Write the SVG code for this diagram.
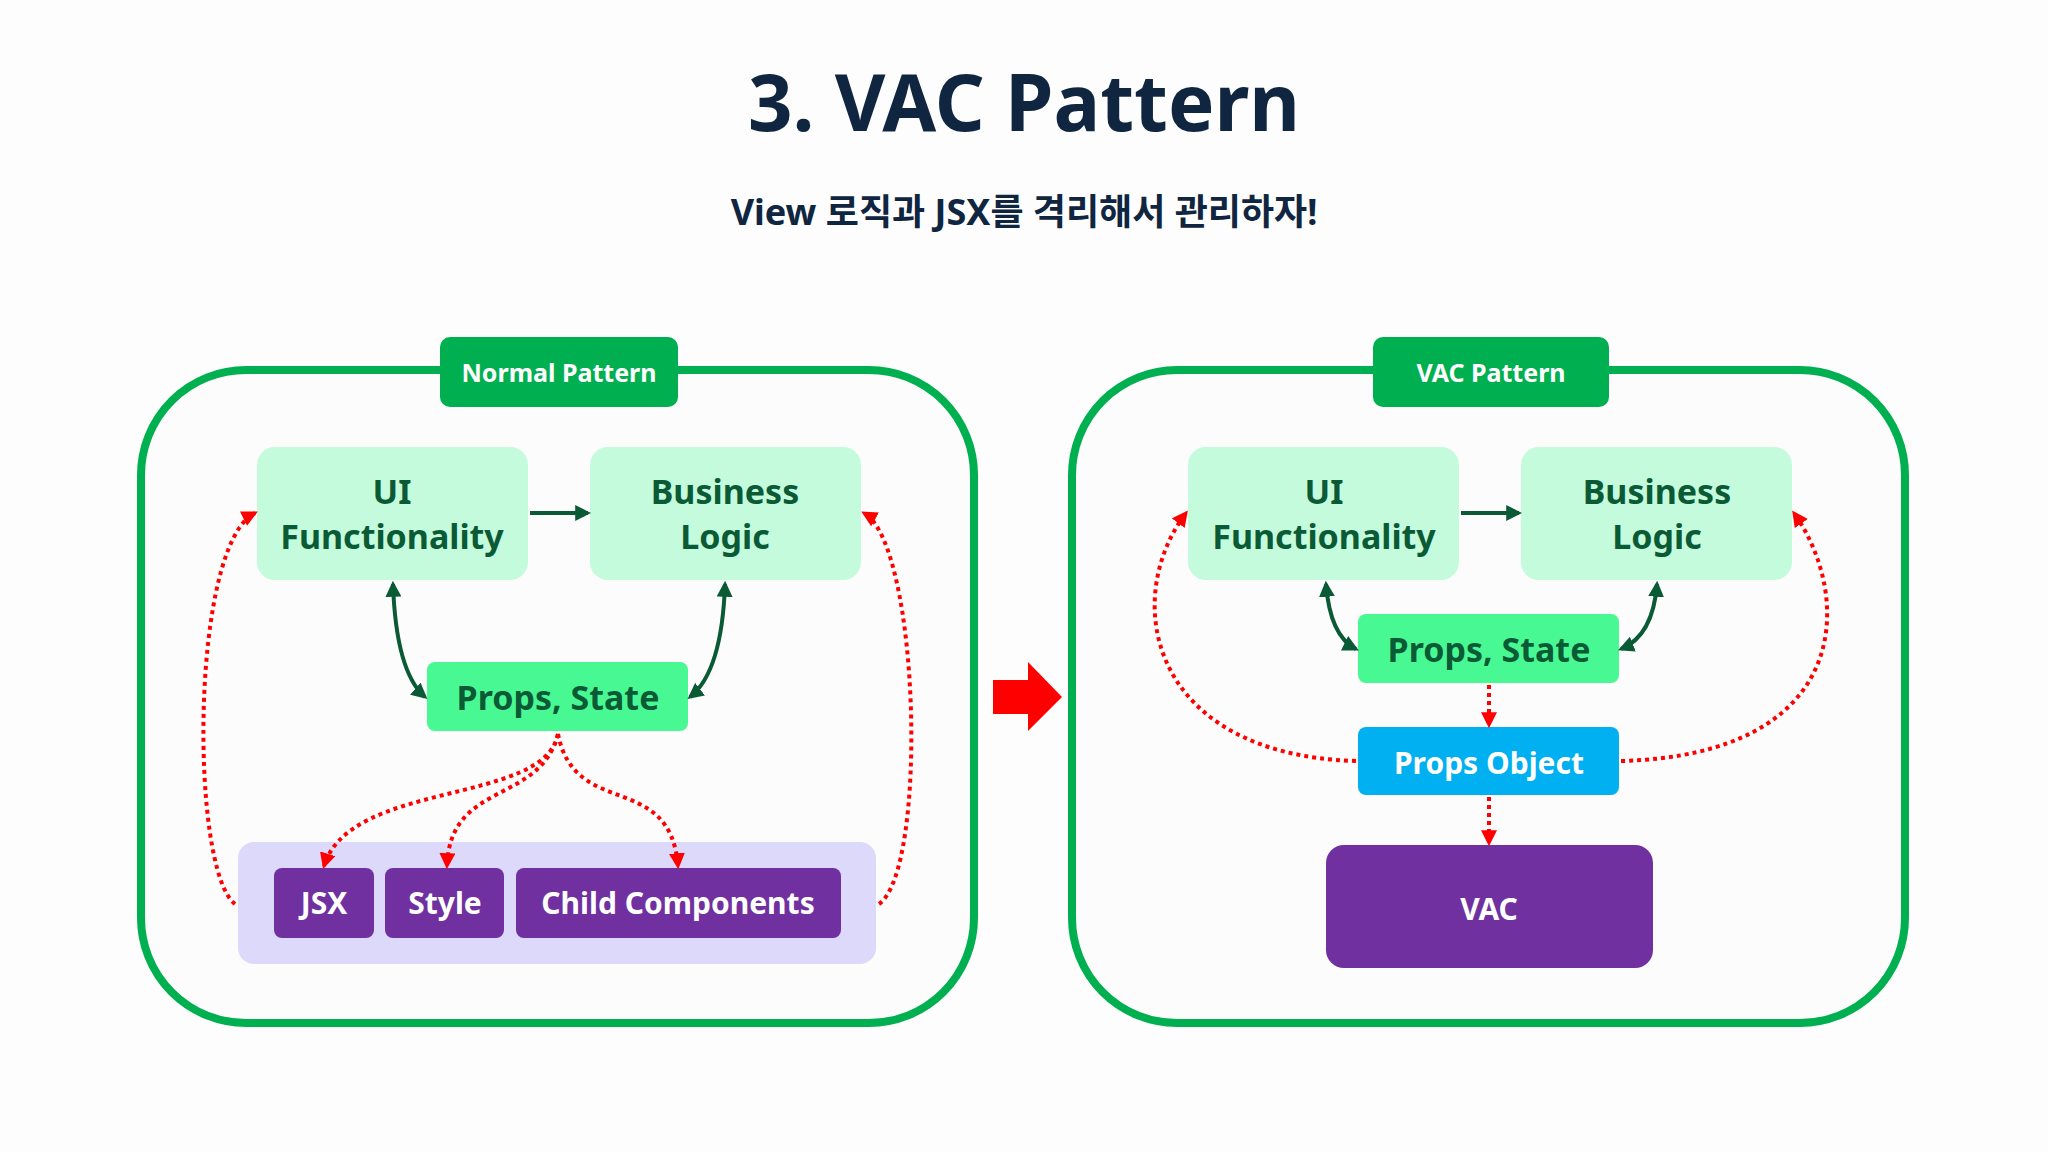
<svg xmlns="http://www.w3.org/2000/svg" width="2048" height="1152" viewBox="0 0 2048 1152">
<defs>
<style>
text{font-family:"Noto Sans","Noto Sans CJK KR",sans-serif;font-weight:700;text-anchor:middle}
.frame{fill:#fcfcfc;stroke:#00b050;stroke-width:8}
.tag{fill:#00b050}
.tagt{fill:#fff;font-size:25px}
.lt{fill:#c3fbdc}
.ps{fill:#48f993}
.nt{fill:#0b5a36;font-size:34px}
.pur{fill:#7030a0}
.wt{fill:#fff;font-size:30px}
.g{fill:none;stroke:#0b5a36;stroke-width:4}
.r{fill:none;stroke:#ff0000;stroke-width:4;stroke-dasharray:4 4}
</style>
<marker id="ga" viewBox="0 0 10 10" refX="8" refY="5" markerWidth="4" markerHeight="4" orient="auto-start-reverse" markerUnits="strokeWidth"><path d="M0,0L10,5L0,10z" fill="#0b5a36"/></marker>
<marker id="ra" viewBox="0 0 10 10" refX="8" refY="5" markerWidth="4" markerHeight="4" orient="auto" markerUnits="strokeWidth"><path d="M0,0L10,5L0,10z" fill="#ff0000"/></marker>
</defs>
<rect width="2048" height="1152" fill="#fdfdfd"/>
<text x="1024" y="131" font-size="78" fill="#0f2540">3. VAC Pattern</text>
<text x="1024" y="225" font-size="36" fill="#0f2540">View 로직과 JSX를 격리해서 관리하자!</text>

<g id="leftFrame"><rect class="frame" x="141" y="370" width="833" height="653" rx="105"/></g>
<g id="normalTag"><rect class="tag" x="440" y="337" width="238" height="70" rx="10"/><text class="tagt" x="559" y="382">Normal Pattern</text></g>
<g id="uiL"><rect class="lt" x="257" y="447" width="271" height="133" rx="18"/><text class="nt" x="392" y="504">UI</text><text class="nt" x="392" y="549">Functionality</text></g>
<g id="blL"><rect class="lt" x="590" y="447" width="271" height="133" rx="18"/><text class="nt" x="725" y="504">Business</text><text class="nt" x="725" y="549">Logic</text></g>
<g id="psL"><rect class="ps" x="427" y="662" width="261" height="69" rx="8"/><text class="nt" x="558" y="710">Props, State</text></g>
<g id="container"><rect fill="#ddd9fa" x="238" y="842" width="638" height="122" rx="16"/></g>
<g id="jsx"><rect class="pur" x="274" y="868" width="100" height="70" rx="8"/><text class="wt" x="324" y="914">JSX</text></g>
<g id="style"><rect class="pur" x="385" y="868" width="119" height="70" rx="8"/><text class="wt" x="445" y="914">Style</text></g>
<g id="child"><rect class="pur" x="516" y="868" width="325" height="70" rx="8"/><text class="wt" x="678" y="914">Child Components</text></g>

<g id="bigArrow"><path d="M993,680H1028V662L1062,697L1028,731V714H993z" fill="#ff0000"/></g>

<g id="rightFrame"><rect class="frame" x="1072" y="370" width="833" height="653" rx="105"/></g>
<g id="vacTag"><rect class="tag" x="1373" y="337" width="236" height="70" rx="10"/><text class="tagt" x="1491" y="382">VAC Pattern</text></g>
<g id="uiR"><rect class="lt" x="1188" y="447" width="271" height="133" rx="18"/><text class="nt" x="1324" y="504">UI</text><text class="nt" x="1324" y="549">Functionality</text></g>
<g id="blR"><rect class="lt" x="1521" y="447" width="271" height="133" rx="18"/><text class="nt" x="1657" y="504">Business</text><text class="nt" x="1657" y="549">Logic</text></g>
<g id="psR"><rect class="ps" x="1358" y="614" width="261" height="69" rx="8"/><text class="nt" x="1489" y="662">Props, State</text></g>
<g id="po"><rect fill="#00b0f0" x="1358" y="727" width="261" height="68" rx="8"/><text class="wt" x="1489" y="774" font-size="33">Props Object</text></g>
<g id="vac"><rect class="pur" x="1326" y="845" width="327" height="123" rx="18"/><text class="wt" x="1489" y="920" font-size="34">VAC</text></g>

<g id="connectors">
<path class="g" d="M530,513H588" marker-end="url(#ga)"/>
<path class="g" d="M393,584Q396,672 425,697" marker-start="url(#ga)" marker-end="url(#ga)"/>
<path class="g" d="M725,584Q722,672 690,697" marker-start="url(#ga)" marker-end="url(#ga)"/>
<path class="r" d="M558,734C545,805 350,780 324,866" marker-end="url(#ra)"/>
<path class="r" d="M558,734C540,805 450,780 447,866" marker-end="url(#ra)"/>
<path class="r" d="M558,734C575,820 670,770 678,866" marker-end="url(#ra)"/>
<path class="r" d="M235,904C190,870 190,545 255,513" marker-end="url(#ra)"/>
<path class="r" d="M879,904C928,870 920,545 864,513" marker-end="url(#ra)"/>

<path class="g" d="M1461,513H1519" marker-end="url(#ga)"/>
<path class="g" d="M1326,584Q1330,636 1356,649" marker-start="url(#ga)" marker-end="url(#ga)"/>
<path class="g" d="M1657,584Q1653,636 1621,649" marker-start="url(#ga)" marker-end="url(#ga)"/>
<path class="r" d="M1489,685V725" marker-end="url(#ra)"/>
<path class="r" d="M1489,797V843" marker-end="url(#ra)"/>
<path class="r" d="M1356,761C1150,755 1120,600 1186,513" marker-end="url(#ra)"/>
<path class="r" d="M1621,761C1850,755 1855,600 1794,513" marker-end="url(#ra)"/>
</g>
</svg>
